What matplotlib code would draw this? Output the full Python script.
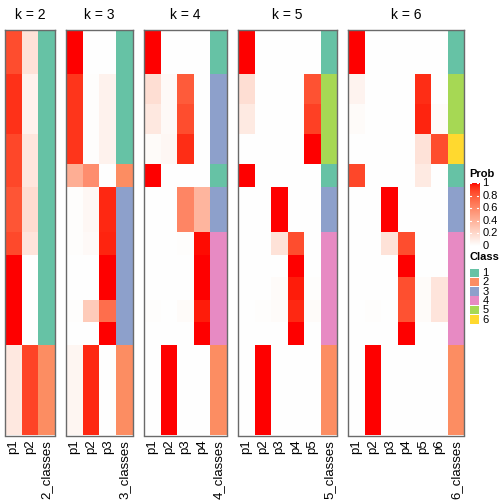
import numpy as np
import matplotlib
matplotlib.use("Agg")
import matplotlib.pyplot as plt
from matplotlib.colors import ListedColormap

plt.rcParams['font.family'] = ['Liberation Sans', 'DejaVu Sans']

# rows per sample group (top to bottom)
row_counts = [6, 4, 4, 4, 3, 6, 3, 3, 3, 3, 3, 12]

k_values = [2, 3, 4, 5, 6]

prob_k2 = [[0.85, 0.15], [0.93, 0.07], [0.93, 0.07], [0.87, 0.13], [0.87, 0.13],
           [0.82, 0.18], [0.86, 0.14], [1, 0], [1, 0], [1, 0], [1, 0], [0.12, 0.88]]
class_k2 = [1, 1, 1, 1, 1, 1, 1, 1, 1, 1, 1, 2]

prob_k3 = [[1, 0, 0], [0.92, 0.01, 0.07], [0.92, 0.01, 0.07], [0.92, 0.01, 0.07],
           [0.42, 0.58, 0], [0.01, 0.04, 0.95], [0.01, 0.03, 0.96], [0, 0, 1],
           [0, 0, 1], [0.01, 0.27, 0.72], [0, 0, 1], [0.05, 0.95, 0]]
class_k3 = [1, 1, 1, 1, 2, 3, 3, 3, 3, 3, 3, 2]

prob_k4 = [[1, 0, 0, 0], [0.17, 0.03, 0.80, 0], [0.12, 0.03, 0.85, 0],
           [0.02, 0.04, 0.94, 0], [1, 0, 0, 0], [0, 0, 0.62, 0.38],
           [0, 0, 0.01, 0.99], [0, 0, 0, 1], [0, 0, 0, 1],
           [0.01, 0, 0.02, 0.97], [0, 0, 0, 1], [0, 1, 0, 0]]
class_k4 = [1, 3, 3, 3, 1, 3, 4, 4, 4, 4, 4, 2]

prob_k5 = [[1, 0, 0, 0, 0], [0.17, 0, 0, 0, 0.83], [0.11, 0, 0, 0, 0.89],
           [0, 0, 0, 0, 1], [1, 0, 0, 0, 0], [0, 0, 1, 0, 0],
           [0, 0, 0.15, 0.85, 0], [0, 0, 0, 1, 0], [0, 0, 0.02, 0.97, 0.01],
           [0, 0.01, 0.02, 0.95, 0.02], [0, 0, 0, 1, 0], [0, 1, 0, 0, 0]]
class_k5 = [1, 5, 5, 5, 1, 3, 4, 4, 4, 4, 4, 2]

prob_k6 = [[1, 0, 0, 0, 0, 0], [0.06, 0, 0, 0, 0.94, 0], [0.02, 0, 0, 0, 0.96, 0.02],
           [0, 0, 0, 0, 0.15, 0.85], [0.87, 0, 0, 0, 0.11, 0], [0, 0, 1, 0, 0, 0],
           [0, 0, 0.15, 0.85, 0, 0], [0, 0, 0, 1, 0, 0], [0, 0, 0, 0.84, 0.02, 0.14],
           [0, 0.01, 0, 0.83, 0.02, 0.14], [0, 0, 0, 1, 0, 0], [0, 1, 0, 0, 0, 0]]
class_k6 = [1, 5, 5, 6, 1, 3, 4, 4, 4, 4, 4, 2]

probs = [prob_k2, prob_k3, prob_k4, prob_k5, prob_k6]
classes = [class_k2, class_k3, class_k4, class_k5, class_k6]

class_colors = ['#66C2A5', '#FC8D62', '#8DA0CB', '#E78AC3', '#A6D854', '#FFD92F']


# white -> red ramp interpolated in CIE Lab (like colorRamp2)
def lab_ramp(n=256):
    white = np.array([100.0, 0.0, 0.0])
    red = np.array([53.2408, 80.0925, 67.2032])
    t = np.linspace(0, 1, n)[:, None]
    lab = white + t * (red - white)
    L, a, b = lab[:, 0], lab[:, 1], lab[:, 2]
    fy = (L + 16) / 116
    fx = fy + a / 500
    fz = fy - b / 200

    def finv(f):
        return np.where(f ** 3 > 0.008856, f ** 3, (f - 16 / 116) / 7.787)
    X = 0.95047 * finv(fx)
    Y = 1.0 * finv(fy)
    Z = 1.08883 * finv(fz)
    r = 3.2406 * X - 1.5372 * Y - 0.4986 * Z
    g = -0.9689 * X + 1.8758 * Y + 0.0415 * Z
    bb = 0.0557 * X - 0.2040 * Y + 1.0570 * Z
    rgb = np.stack([r, g, bb], axis=1)
    rgb = np.clip(rgb, 0, 1)
    rgb = np.where(rgb > 0.0031308, 1.055 * rgb ** (1 / 2.4) - 0.055, 12.92 * rgb)
    return ListedColormap(np.clip(rgb, 0, 1))


prob_cmap = lab_ramp()
class_cmap = ListedColormap(class_colors)

W = H = 504
fig = plt.figure(figsize=(5.04, 5.04), dpi=100)

panel_x = [(5, 55), (66.3, 132.7), (144, 226.7), (238, 337.3), (348.3, 464.3)]
top, bottom = 30, 435.5
n_rows = sum(row_counts)

for k, p, c, (x0, x1) in zip(k_values, probs, classes, panel_x):
    ax = fig.add_axes([x0 / W, 1 - bottom / H, (x1 - x0) / W, (bottom - top) / H])
    mat = np.repeat(np.array(p, dtype=float), row_counts, axis=0)
    cls = np.repeat(np.array(c), row_counts)[:, None] - 1
    ax.imshow(mat, cmap=prob_cmap, vmin=0, vmax=1, aspect='auto',
              interpolation='nearest', extent=(0, k, n_rows, 0))
    ax.imshow(cls, cmap=class_cmap, vmin=-0.5, vmax=5.5, aspect='auto',
              interpolation='nearest', extent=(k, k + 1, n_rows, 0))
    ax.set_xlim(0, k + 1)
    ax.set_ylim(n_rows, 0)
    ax.set_yticks([])
    ax.set_xticks(np.arange(k + 1) + 0.5)
    ax.set_xticklabels([f'p{i + 1}' for i in range(k)] + [f'{k}_classes'],
                       rotation=90, fontsize=9.5)
    ax.tick_params(axis='x', length=0, pad=3)
    for s in ax.spines.values():
        s.set_color('#6a6a6a')
        s.set_linewidth(1.0)
    ax.text(0.5, 1 + 15 / (bottom - top), f'k = {k}', transform=ax.transAxes,
            ha='center', va='center', fontsize=10)

# Prob colour bar legend
fig.text(469 / W, 1 - 174 / H, 'Prob', fontsize=8, fontweight='bold',
         ha='left', va='center')
cb_top, cb_bot = 183, 246
cax = fig.add_axes([469.5 / W, 1 - cb_bot / H, 9.5 / W, (cb_bot - cb_top) / H])
grad = np.linspace(1, 0, 200)[:, None]
cax.imshow(grad, cmap=prob_cmap, vmin=0, vmax=1, aspect='auto',
           extent=(0, 1, 0, 1))
cax.set_xlim(0, 1)
cax.set_ylim(0, 1)
cax.axis('off')
for v in [0, 0.2, 0.4, 0.6, 0.8, 1]:
    cax.plot([0, 0.2], [v, v], color='white', lw=0.8)
    cax.plot([0.8, 1], [v, v], color='white', lw=0.8)
    ypix = cb_bot - v * (cb_bot - cb_top)
    fig.text(482.5 / W, 1 - ypix / H, f'{v:g}', fontsize=8,
             ha='left', va='center')

# Class legend
fig.text(469 / W, 1 - 257 / H, 'Class', fontsize=8, fontweight='bold',
         ha='left', va='center')
box_top, box_h = 268.5, 9.3
for i, col in enumerate(class_colors):
    y0 = box_top + i * box_h
    fig.patches.append(plt.Rectangle((469.5 / W, 1 - (y0 + box_h - 0.8) / H),
                                     9.5 / W, (box_h - 0.8) / H,
                                     transform=fig.transFigure,
                                     facecolor=col, edgecolor='none'))
    fig.text(482.5 / W, 1 - (y0 + box_h / 2) / H, str(i + 1), fontsize=8,
             ha='left', va='center')

fig.savefig('out.png', dpi=100)
